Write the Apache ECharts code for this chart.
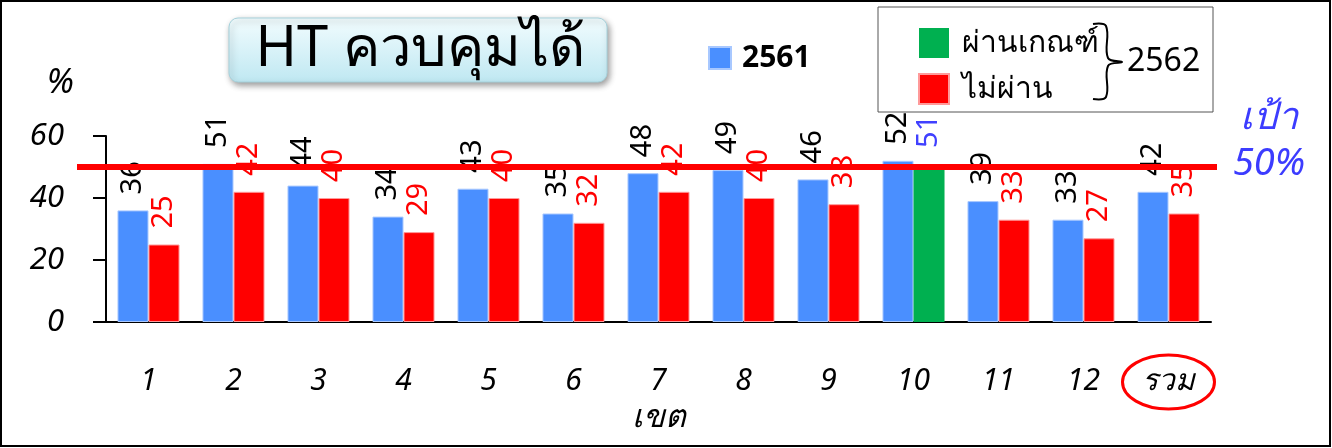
<!DOCTYPE html>
<html>
<head>
<meta charset="utf-8">
<script src="https://cdn.jsdelivr.net/npm/echarts@6/dist/echarts.min.js"></script>
<style>
  html, body { margin: 0; padding: 0; background: #fff; }
  #view { width: 1332px; height: 448px; }
</style>
</head>
<body>
<div id="view"></div>
<script>
// data
const categories = ["1", "2", "3", "4", "5", "6", "7", "8", "9", "10", "11", "12", "รวม"];
const y2561 = [36, 51, 44, 34, 43, 35, 48, 49, 46, 52, 39, 33, 42];
const y2562Fail = [25, 42, 40, 29, 40, 32, 42, 40, 38, null, 33, 27, 35];
const y2562Pass = [null, null, null, null, null, null, null, null, null, 51, null, null, null];
const target = 50;
const yMin = 0, yMax = 60, yStep = 20;

const FONT = "'Noto Sans', 'DejaVu Sans', sans-serif";

let myChart = echarts.init(document.getElementById("view"));

function barLabel(color) {
  return {
    show: true,
    position: "top",
    rotate: 90,
    align: "left",
    verticalAlign: "middle",
    distance: 16,
    color: color,
    fontSize: 29,
    fontFamily: FONT,
  };
}

let option = {
  backgroundColor: "#ffffff",
  animation: false,
  grid: { left: 106, right: 121, top: 136, bottom: 126, containLabel: false },
  legend: [
    {
      data: ["2561"],
      left: 703,
      top: 38,
      itemWidth: 22,
      itemHeight: 22,
      icon: "rect",
      textStyle: { fontSize: 30, fontWeight: "bold", fontFamily: FONT, color: "#000", padding: [0, 0, 0, 6] },
    },
    {
      data: ["ผ่านเกณฑ์", "ไม่ผ่าน"],
      orient: "vertical",
      left: 913,
      top: 23,
      itemWidth: 30,
      itemHeight: 30,
      itemGap: 15,
      icon: "rect",
      textStyle: { fontSize: 30, fontFamily: FONT, color: "#000", padding: [0, 0, 0, 8] },
    },
  ],
  xAxis: {
    type: "category",
    data: categories,
    name: "เขต",
    nameLocation: "middle",
    nameGap: 80,
    nameTextStyle: { fontSize: 32, fontStyle: "italic", fontFamily: FONT, color: "#000" },
    axisLine: { lineStyle: { color: "#000", width: 2 } },
    axisTick: { show: false },
    axisLabel: { margin: 44, fontSize: 30, fontStyle: "italic", fontFamily: FONT, color: "#000" },
  },
  yAxis: {
    type: "value",
    min: yMin,
    max: yMax,
    interval: yStep,
    name: "%",
    nameLocation: "end",
    nameGap: 36,
    nameTextStyle: { fontSize: 34, fontStyle: "italic", fontFamily: FONT, color: "#000", align: "right", padding: [0, 32, 0, 0] },
    axisLine: { show: true, lineStyle: { color: "#000", width: 2 } },
    axisTick: { show: true, inside: false, length: 13, lineStyle: { color: "#000", width: 2 } },
    axisLabel: { margin: 42, fontSize: 31, fontStyle: "italic", fontFamily: FONT, color: "#000" },
    splitLine: { show: false },
  },
  series: [
    {
      name: "2561",
      type: "bar",
      data: y2561,
      barGap: "0%",
      barCategoryGap: "27%",
      itemStyle: { color: "#4a8fff", borderColor: "#a8c8ff", borderWidth: 1 },
      label: barLabel("#000000"),
    },
    {
      name: "ไม่ผ่าน",
      type: "bar",
      stack: "y2562",
      data: y2562Fail,
      itemStyle: { color: "#ff0000", borderColor: "#ff9a9a", borderWidth: 1 },
      label: barLabel("#ff0000"),
    },
    {
      name: "ผ่านเกณฑ์",
      type: "bar",
      stack: "y2562",
      data: y2562Pass,
      itemStyle: { color: "#00b050" },
      label: barLabel("#4040ff"),
    },
  ],
};
myChart.setOption(option);

// decorations placed from the chart's own scales
let lineY = myChart.convertToPixel({ yAxisIndex: 0 }, target);
let sumX = myChart.convertToPixel({ xAxisIndex: 0 }, categories[categories.length - 1]);

myChart.setOption({
  graphic: [
    // outer frame
    { type: "rect", shape: { x: 1, y: 1, width: 1329, height: 445 }, style: { fill: null, stroke: "#000", lineWidth: 2 }, z: 100 },
    // title box
    {
      type: "rect",
      shape: { x: 229, y: 18, width: 378, height: 64, r: 9 },
      style: {
        fill: new echarts.graphic.LinearGradient(0, 0, 0, 1, [
          { offset: 0, color: "#f2fcfe" },
          { offset: 1, color: "#bfe8f2" },
        ]),
        stroke: "#a6d2dc",
        lineWidth: 1,
        shadowBlur: 6,
        shadowOffsetX: 2,
        shadowOffsetY: 3,
        shadowColor: "rgba(0,0,0,0.4)",
      },
      z: 10,
    },
    {
      type: "text",
      style: { text: "HT ควบคุมได้", x: 420, y: 50, textAlign: "center", textVerticalAlign: "middle", fontSize: 56, fontFamily: FONT, fill: "#000" },
      z: 11,
    },
    // legend box for 2562
    { type: "rect", shape: { x: 878, y: 7, width: 335, height: 105 }, style: { fill: null, stroke: "#555", lineWidth: 1 }, z: 5 },
    {
      type: "polyline",
      shape: { points: [[1093, 24], [1106, 26], [1108, 58], [1122, 62], [1108, 66], [1106, 97], [1093, 99]], smooth: 0.4 },
      style: { stroke: "#000", lineWidth: 2, fill: null },
      z: 6,
    },
    {
      type: "text",
      style: { text: "2562", x: 1127, y: 62, textAlign: "left", textVerticalAlign: "middle", fontSize: 32, fontFamily: FONT, fill: "#000" },
      z: 6,
    },
    // target line
    { type: "line", shape: { x1: 77, y1: lineY, x2: 1217, y2: lineY }, style: { stroke: "#ff0000", lineWidth: 6 }, z: 50 },
    {
      type: "text",
      style: { text: "เป้า", x: 1269, y: 118, textAlign: "center", textVerticalAlign: "middle", fontSize: 38, fontStyle: "italic", fontFamily: FONT, fill: "#3c3cff" },
    },
    {
      type: "text",
      style: { text: "50%", x: 1269, y: 164, textAlign: "center", textVerticalAlign: "middle", fontSize: 38, fontStyle: "italic", fontFamily: FONT, fill: "#3c3cff" },
    },
    // circle round "รวม"
    { type: "ellipse", shape: { cx: sumX, cy: 382, rx: 46, ry: 27 }, style: { fill: null, stroke: "#ff0000", lineWidth: 3 }, z: 20 },
  ],
});
</script>
</body>
</html>
